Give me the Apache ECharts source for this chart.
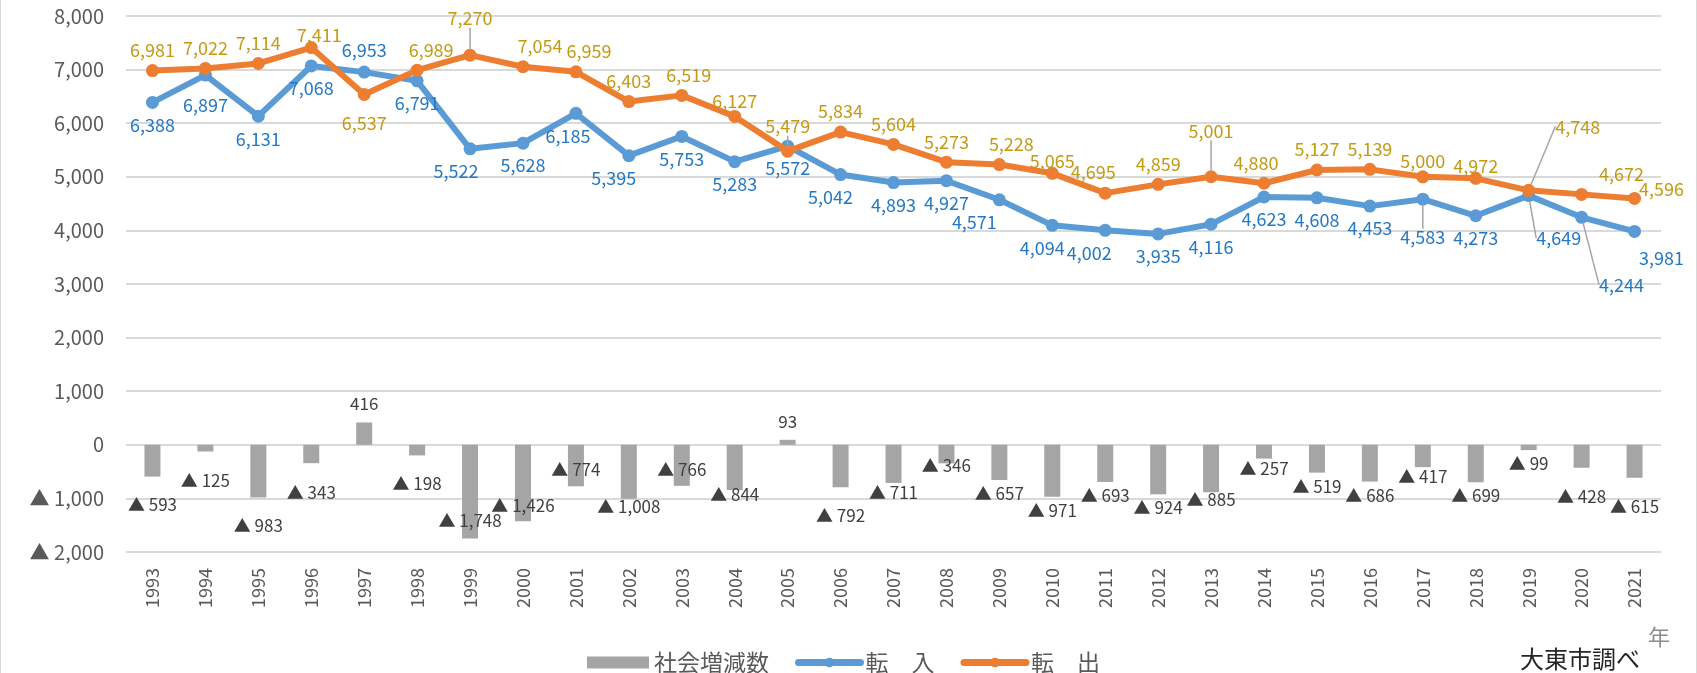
<!DOCTYPE html>
<html>
<head>
<meta charset="utf-8">
<script src="https://cdn.jsdelivr.net/npm/echarts@6/dist/echarts.min.js"></script>
<style>
  html, body { margin: 0; padding: 0; background: #fff; }
  #chart { width: 1697px; height: 673px; box-sizing: border-box; border-left: 1px solid #d9d9d9; border-right: 1px solid #d9d9d9; }
</style>
</head>
<body>
<div id="chart"></div>
<script>
const years = ["1993","1994","1995","1996","1997","1998","1999","2000","2001","2002","2003","2004","2005","2006","2007","2008","2009","2010","2011","2012","2013","2014","2015","2016","2017","2018","2019","2020","2021"];
// 転入
const tennyu = [6388,6897,6131,7068,6953,6791,5522,5628,6185,5395,5753,5283,5572,5042,4893,4927,4571,4094,4002,3935,4116,4623,4608,4453,4583,4273,4649,4244,3981];
// 転出
const tenshutsu = [6981,7022,7114,7411,6537,6989,7270,7054,6959,6403,6519,6127,5479,5834,5604,5273,5228,5065,4695,4859,5001,4880,5127,5139,5000,4972,4748,4672,4596];
// 社会増減数
const shakai = [-593,-125,-983,-343,416,-198,-1748,-1426,-774,-1008,-766,-844,93,-792,-711,-346,-657,-971,-693,-924,-885,-257,-519,-686,-417,-699,-99,-428,-615];
const yMin = -2000, yMax = 8000, yStep = 1000;

// label nudges (by year) to follow the hand-placed labels of the original
const inNudge = {
  "1994": {dy: 8}, "1997": {dy: -44}, "1999": {dx: -14}, "2001": {dx: -8}, "2002": {dx: -15},
  "2006": {dx: -10}, "2009": {dx: -25}, "2010": {dx: -10}, "2011": {dx: -16},
  "2017": {dy: 16, line: true}, "2019": {dx: 30, dy: 20, line: true},
  "2020": {dx: 40, dy: 45, line: true}, "2021": {dx: 27, dy: 4}
};
const outNudge = {
  "1996": {dx: 8, dy: 8}, "1997": {dy: 49}, "1998": {dx: 14}, "1999": {dy: -16, line: true},
  "2000": {dx: 17}, "2001": {dx: 13}, "2003": {dx: 7}, "2004": {dy: 5},
  "2005": {dy: -4, line: true}, "2009": {dx: 12}, "2010": {dy: 8}, "2011": {dx: -12},
  "2013": {dy: -25, line: true}, "2014": {dx: -8}, "2017": {dy: 5}, "2018": {dy: 8},
  "2019": {dx: 49, dy: -43, line: true}, "2020": {dx: 40}, "2021": {dx: 27, dy: 11}
};
const barNudge = {
  "1993": 14, "1994": 16, "1995": 15, "1996": 16, "1998": 15, "1999": -31, "2000": -29,
  "2001": -30, "2002": -6, "2003": -30, "2004": -9, "2006": 15, "2007": -4, "2008": -11,
  "2013": -6, "2014": -4, "2017": -4, "2020": 15, "2021": 15
};

const fmt = (v) => (v < 0 ? "▲ " + Math.abs(v).toLocaleString("en-US") : v.toLocaleString("en-US"));
const FONT = "'Noto Sans CJK JP', 'Noto Sans', sans-serif";

const lineData = (vals, nudge) => vals.map((v, i) => {
  const n = nudge[years[i]];
  return n && n.line ? { value: v, labelLine: { show: true } } : v;
});
const layoutFrom = (nudge) => (p) => {
  const n = nudge[years[p.dataIndex]];
  return n ? { dx: n.dx || 0, dy: n.dy || 0 } : {};
};

const chart = echarts.init(document.getElementById("chart"));
chart.setOption({
  animation: false,
  textStyle: { fontFamily: FONT },
  grid: { left: 125, right: 35, top: 16, bottom: 121 },
  legend: {
    left: 581,
    top: 646,
    itemWidth: 62,
    itemHeight: 12,
    itemGap: 26,
    lineStyle: { width: 7, cap: "round" },
    textStyle: { fontSize: 23, color: "#595959", fontFamily: FONT },
    data: [{ name: "社会増減数", icon: "rect" }, "転　入", "転　出"]
  },
  xAxis: {
    type: "category",
    data: years,
    axisLine: { show: false },
    axisTick: { show: false },
    axisLabel: { rotate: 90, fontSize: 18, color: "#595959", margin: 16 }
  },
  yAxis: {
    type: "value",
    min: yMin,
    max: yMax,
    interval: yStep,
    axisLine: { show: false },
    axisTick: { show: false },
    splitLine: { lineStyle: { color: "#d9d9d9", width: 2 } },
    axisLabel: { fontSize: 20, color: "#595959", margin: 22, formatter: fmt }
  },
  series: [
    {
      name: "社会増減数",
      type: "bar",
      barWidth: 16,
      itemStyle: { color: "#a5a5a5" },
      data: shakai.map((v) => ({ value: v, label: { position: v < 0 ? "bottom" : "top", distance: v < 0 ? 5 : 10 } })),
      label: { show: true, fontSize: 17, color: "#404040", formatter: (p) => fmt(p.value) },
      labelLayout: (p) => ({ dy: barNudge[years[p.dataIndex]] || 0 }),
      z: 1
    },
    {
      name: "転　入",
      type: "line",
      data: lineData(tennyu, inNudge),
      symbol: "circle",
      symbolSize: 13,
      lineStyle: { color: "#5b9bd5", width: 6 },
      itemStyle: { color: "#5b9bd5" },
      label: { show: true, position: "bottom", distance: 7, fontSize: 18, color: "#2478c4", formatter: (p) => fmt(p.value) },
      labelLine: { show: false, lineStyle: { color: "#a6a6a6", width: 1.5 } },
      labelLayout: layoutFrom(inNudge),
      z: 3
    },
    {
      name: "転　出",
      type: "line",
      data: lineData(tenshutsu, outNudge),
      symbol: "circle",
      symbolSize: 13,
      lineStyle: { color: "#ed7d31", width: 6 },
      itemStyle: { color: "#ed7d31" },
      label: { show: true, position: "top", distance: 5, fontSize: 18, color: "#c49a13", formatter: (p) => fmt(p.value) },
      labelLine: { show: false, lineStyle: { color: "#a6a6a6", width: 1.5 } },
      labelLayout: layoutFrom(outNudge),
      z: 4
    }
  ],
  graphic: [
    { type: "text", left: 1519, top: 647, style: { text: "大東市調べ", fontSize: 24, fill: "#262626", fontFamily: FONT } },
    { type: "text", left: 1647, top: 626, style: { text: "年", fontSize: 22, fill: "#8c8c8c", fontFamily: FONT } }
  ]
});
</script>
</body>
</html>
